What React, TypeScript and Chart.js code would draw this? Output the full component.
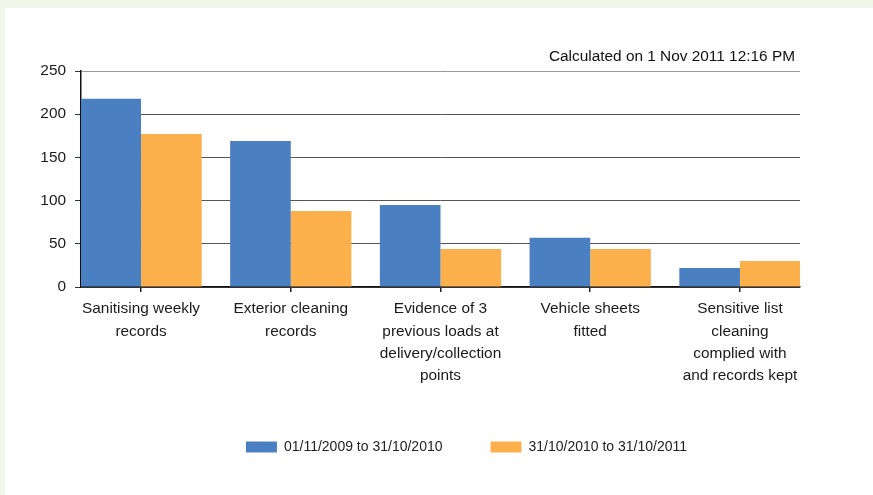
import React, { useEffect, useRef } from "react";
import { Chart, registerables } from "chart.js";
Chart.register(...registerables);

const categories: string[][] = [
  ["Sanitising weekly", "records"],
  ["Exterior cleaning", "records"],
  ["Evidence of 3", "previous loads at", "delivery/collection", "points"],
  ["Vehicle sheets", "fitted"],
  ["Sensitive list", "cleaning", "complied with", "and records kept"],
];
const series1Label = "01/11/2009 to 31/10/2010";
const series2Label = "31/10/2010 to 31/10/2011";
const series1 = [218, 169, 95, 57, 22];
const series2 = [177, 88, 44, 44, 30];
const yTicks = [0, 50, 100, 150, 200, 250];
const note = "Calculated on 1 Nov 2011 12:16 PM";

const FONT = '"Liberation Sans", Arial, sans-serif';
const BLUE = "#4a80c2";
const ORANGE = "#fbb04c";

const notePlugin = {
  id: "note",
  afterDraw(chart: any) {
    const { ctx, chartArea } = chart;
    ctx.save();
    ctx.font = `15.4px ${FONT}`;
    ctx.fillStyle = "#111";
    ctx.textAlign = "right";
    ctx.textBaseline = "middle";
    ctx.fillText(note, chartArea.right - 5, chartArea.top - 14);
    ctx.restore();
  },
};

export default function App() {
  const ref = useRef<HTMLCanvasElement>(null);
  useEffect(() => {
    document.body.style.margin = "0";
    const chart = new Chart(ref.current!, {
      type: "bar",
      data: {
        datasets: [
          {
            label: series1Label,
            data: series1.map((v, i) => ({ x: i, y: v })),
            backgroundColor: BLUE,
            borderWidth: 0,
          },
          {
            label: series2Label,
            data: series2.map((v, i) => ({ x: i, y: v })),
            backgroundColor: ORANGE,
            borderWidth: 0,
          },
        ],
      },
      options: {
        animation: false,
        responsive: false,
        devicePixelRatio: 1,
        categoryPercentage: 0.81,
        barPercentage: 1,
        layout: { padding: { left: 0, right: -55, top: 63, bottom: 31 } },
        plugins: {
          legend: {
            position: "bottom",
            labels: {
              boxWidth: 31,
              boxHeight: 11,
              padding: 48,
              color: "#222",
              font: { family: FONT, size: 14 },
            },
          },
          tooltip: { enabled: false },
        },
        scales: {
          x: {
            type: "linear",
            min: -0.401,
            max: 4.401,
            offset: false,
            grid: {
              offset: false,
              drawOnChartArea: false,
              drawTicks: true,
              tickLength: 5,
              tickColor: "#222",
              lineWidth: 1.5,
            },
            border: { color: "#111", width: 1.5 },
            afterBuildTicks: (s: any) => {
              s.ticks = categories.map((_, i) => ({ value: i }));
            },
            afterFit: (s: any) => {
              s.height = 105;
            },
            ticks: {
              autoSkip: false,
              maxRotation: 0,
              padding: 6,
              color: "#1a1a1a",
              font: { family: FONT, size: 15.4, lineHeight: 1.45 },
              callback: (v: any) => categories[Math.round(Number(v))] ?? "",
            },
          },
          y: {
            min: 0,
            max: 250,
            afterBuildTicks: (s: any) => {
              s.ticks = yTicks.map((v) => ({ value: v }));
            },
            afterFit: (s: any) => {
              s.width = 76;
            },
            grid: {
              color: (c: any) => (c.tick && c.tick.value === 250 ? "#999" : "#555"),
              tickColor: "#333",
              tickLength: 6,
              lineWidth: 1,
            },
            border: { color: "#111", width: 1.5 },
            ticks: {
              padding: 9,
              color: "#1a1a1a",
              font: { family: FONT, size: 15.4 },
            },
          },
          y2: {
            position: "right",
            display: true,
            grid: { display: false },
            border: { display: false },
            ticks: { display: false },
            afterFit: (s: any) => {
              s.width = 128;
            },
          },
        },
      } as any,
      plugins: [notePlugin],
    });
    return () => chart.destroy();
  }, []);
  return (
    <div
      style={{
        background: "#f2f7ec",
        paddingTop: 8,
        paddingLeft: 5,
        width: 873,
        height: 495,
        boxSizing: "border-box",
      }}
    >
      <canvas
        ref={ref}
        width={868}
        height={487}
        style={{ display: "block", background: "#fff" }}
      />
    </div>
  );
}
